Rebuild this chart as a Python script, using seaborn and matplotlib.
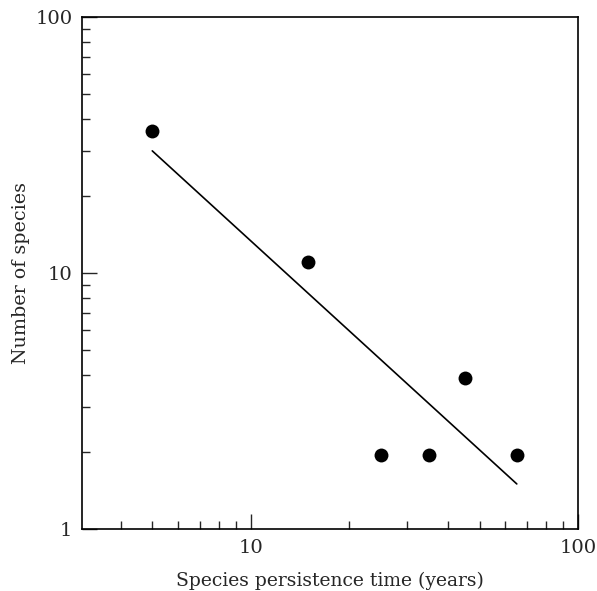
import numpy as np
import pandas as pd
import seaborn as sns
import matplotlib.pyplot as plt
from matplotlib.ticker import LogLocator, NullFormatter, FixedLocator, FixedFormatter

# persistence time (years) vs number of species
persistence = [5, 15, 25, 35, 45, 65]
n_species = [36, 11, 1.95, 1.95, 3.9, 1.95]

# fitted power-law line (end points)
fit_x = [5, 65]
fit_y = [30, 1.5]

sns.set_style('ticks')
plt.rcParams['font.family'] = ['DejaVu Serif']

df = pd.DataFrame({'Persistence': persistence, 'Species': n_species})
df_fit = pd.DataFrame({'Persistence': fit_x, 'Species': fit_y})

fig = plt.figure(figsize=(5.97, 5.91), dpi=100)
ax = fig.add_axes([0.1374, 0.1049, 0.8308, 0.8663])

sns.lineplot(data=df_fit, x='Persistence', y='Species', color='black', linewidth=1.2, ax=ax)
sns.scatterplot(data=df, x='Persistence', y='Species', color='black', s=100,
                edgecolor='black', linewidth=0, ax=ax, zorder=3)

ax.set_xscale('log')
ax.set_yscale('log')
ax.set_xlim(3.05, 100)
ax.set_ylim(1, 100)

ax.xaxis.set_major_locator(FixedLocator([10, 100]))
ax.xaxis.set_major_formatter(FixedFormatter(['10', '100']))
ax.yaxis.set_major_locator(FixedLocator([1, 10, 100]))
ax.yaxis.set_major_formatter(FixedFormatter(['1', '10', '100']))
ax.xaxis.set_minor_locator(LogLocator(base=10, subs=np.arange(2, 10)))
ax.yaxis.set_minor_locator(LogLocator(base=10, subs=np.arange(2, 10)))
ax.xaxis.set_minor_formatter(NullFormatter())
ax.yaxis.set_minor_formatter(NullFormatter())

ax.tick_params(which='major', direction='in', length=11, width=1, labelsize=14, pad=7)
ax.tick_params(which='minor', direction='in', length=6, width=1)
ax.tick_params(top=False, right=False, which='both')

for sp in ax.spines.values():
    sp.set_linewidth(1.2)
    sp.set_color('black')

ax.set_xlabel('Species persistence time (years)', fontsize=13.5, labelpad=11)
ax.set_ylabel('Number of species', fontsize=13.7, labelpad=4)

plt.savefig('out.png', dpi=100)
